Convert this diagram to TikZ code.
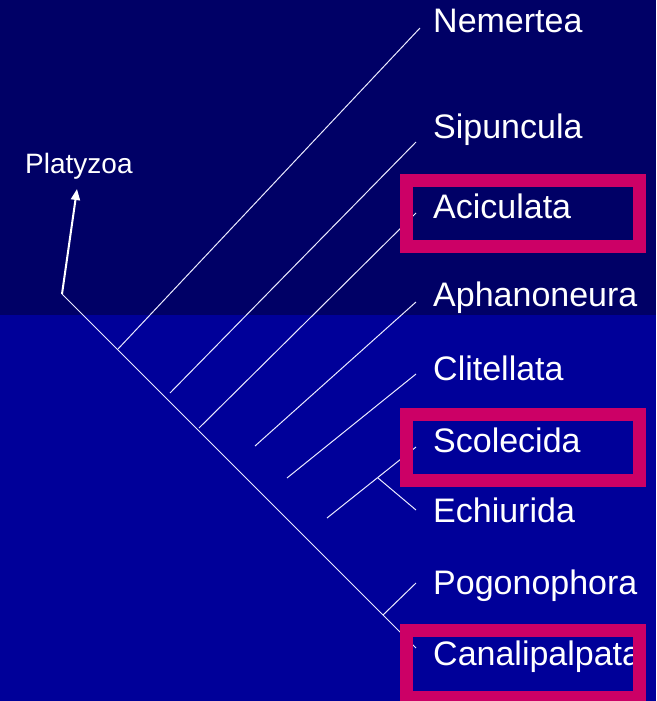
\documentclass[tikz,border=0pt]{standalone}
\usepackage{fontspec}
\setmainfont{Liberation Sans}
\usetikzlibrary{arrows.meta}
\definecolor{topnavy}{HTML}{000066}
\definecolor{lownavy}{HTML}{000099}
\definecolor{hilite}{HTML}{CC0066}
\tikzstyle{taxon} = [anchor=base west, inner sep=0pt, text=white, font=\fontsize{34}{40}\selectfont]
\tikzstyle{group} = [anchor=base west, inner sep=0pt, text=white, font=\fontsize{28}{33}\selectfont]
\tikzstyle{branch} = [draw=white!92!blue, line width=1pt]
\tikzstyle{arrow} = [draw=white, line width=2pt, -{Triangle[length=11pt, width=9pt]}]
\tikzstyle{hibox} = [draw=hilite, line width=13pt]

\begin{document}
\begin{tikzpicture}[x=1pt, y=-1pt]
  % background, two bands
  \fill[topnavy] (0,0) rectangle (656,315);
  \fill[lownavy] (0,315) rectangle (656,701);
  \useasboundingbox (0,0) rectangle (656,701);

  % points of the tree
  \coordinate (root) at (62,294);
  \coordinate (platytip) at (77,189);
  \coordinate (mainend) at (416,648);
  \coordinate (nemfork) at (118,349);
  \coordinate (nemend) at (420,28);
  \coordinate (sipfork) at (170,393);
  \coordinate (sipend) at (416,142);
  \coordinate (acifork) at (199,428);
  \coordinate (aciend) at (416,213);
  \coordinate (aphfork) at (255,446);
  \coordinate (aphend) at (416,302);
  \coordinate (clifork) at (287,478);
  \coordinate (cliend) at (416,374);
  \coordinate (scofork) at (327,518);
  \coordinate (scoend) at (416,447);
  \coordinate (echfork) at (378,478);
  \coordinate (echend) at (416,510);
  \coordinate (pogfork) at (383,615);
  \coordinate (pogend) at (416,583);

  % labels
  \node[group] (platy) at (25,173) {Platyzoa};
  \node[taxon] (nem) at (433,33) {Nemertea};
  \node[taxon] (sip) at (433,138) {Sipuncula};
  \node[taxon] (aci) at (433,218) {Aciculata};
  \node[taxon] (aph) at (433,306) {Aphanoneura};
  \node[taxon] (cli) at (433,380) {Clitellata};
  \node[taxon] (sco) at (433,452) {Scolecida};
  \node[taxon] (ech) at (433,522) {Echiurida};
  \node[taxon] (pog) at (433,594) {Pogonophora};
  \node[taxon] (can) at (433,665) {Canalipalpata};

  % branches
  \draw[branch] (root) -- (mainend);
  \draw[branch] (nemfork) -- (nemend);
  \draw[branch] (sipfork) -- (sipend);
  \draw[branch] (acifork) -- (aciend);
  \draw[branch] (aphfork) -- (aphend);
  \draw[branch] (clifork) -- (cliend);
  \draw[branch] (scofork) -- (scoend);
  \draw[branch] (echfork) -- (echend);
  \draw[branch] (pogfork) -- (pogend);
  \draw[arrow] (root) -- (platytip);

  % highlighted taxa
  \draw[hibox] (406.5,180.5) rectangle (639.5,246.5);
  \draw[hibox] (406.5,414) rectangle (639.5,480.5);
  \draw[hibox] (406.5,630.5) rectangle (639.5,697);
\end{tikzpicture}
\end{document}
